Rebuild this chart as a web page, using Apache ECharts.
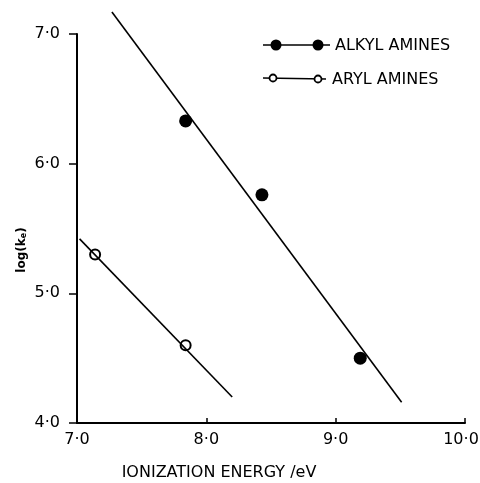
<!DOCTYPE html>
<html>
<head>
<meta charset="utf-8">
<script src="https://cdn.jsdelivr.net/npm/echarts@6/dist/echarts.min.js"></script>
<style>
    html, body { margin: 0; padding: 0; background: #fff; }
    #chart { width: 480px; height: 483px; }
</style>
</head>
<body>
<div id="chart"></div>
<script>
// Data
const alkylPoints = [[7.84, 6.33], [8.43, 5.76], [9.19, 4.50]];
const arylPoints = [[7.14, 5.30], [7.84, 4.60]];
// Fitted lines (end points)
const alkylFit = [[7.27, 7.17], [9.51, 4.16]];
const arylFit = [[7.02, 5.42], [8.20, 4.20]];
const xTicks = [7, 8, 9, 10];
const yTicks = [4, 5, 6, 7];

const FONT = 'DejaVu Sans';

function fmt(v) {
    return v.toFixed(1).replace('.', '\u00b7');
}

const chart = echarts.init(document.getElementById('chart'));

const option = {
    backgroundColor: '#fff',
    animation: false,
    grid: { left: 77, right: 15, top: 34, bottom: 60, containLabel: false, outerBoundsMode: 'none' },
    xAxis: {
        type: 'value',
        min: xTicks[0],
        max: xTicks[xTicks.length - 1],
        interval: 1,
        axisLine: { lineStyle: { color: '#000', width: 2 } },
        axisTick: { inside: true, length: 5, lineStyle: { color: '#000', width: 1.5 } },
        axisLabel: {
            color: '#000', fontFamily: FONT, fontSize: 16, margin: 9,
            formatter: function(v) {
                // last label nudged left so it stays inside the frame
                return v >= 10 ? '{n|' + fmt(v) + '}' : fmt(v);
            },
            rich: { n: { fontSize: 16, fontFamily: FONT, color: '#000', padding: [0, 8, 0, 0] } }
        },
        splitLine: { show: false }
    },
    yAxis: {
        type: 'value',
        min: yTicks[0],
        max: yTicks[yTicks.length - 1],
        interval: 1,
        axisLine: { show: true, lineStyle: { color: '#000', width: 2 } },
        axisTick: { show: true, length: 8, lineStyle: { color: '#000', width: 1.5 } },
        axisLabel: {
            color: '#000', fontFamily: FONT, fontSize: 16, margin: 17,
            formatter: fmt
        },
        splitLine: { show: false }
    },
    series: [
        {
            type: 'line',
            data: alkylFit,
            showSymbol: false,
            clip: false,
            lineStyle: { color: '#000', width: 1.6 }
        },
        {
            type: 'line',
            data: arylFit,
            showSymbol: false,
            clip: false,
            lineStyle: { color: '#000', width: 1.6 }
        },
        {
            name: 'ALKYL AMINES',
            type: 'scatter',
            data: alkylPoints,
            symbol: 'circle',
            symbolSize: 13,
            itemStyle: { color: '#000', opacity: 1 }
        },
        {
            name: 'ARYL AMINES',
            type: 'scatter',
            data: arylPoints,
            symbol: 'circle',
            symbolSize: 10,
            itemStyle: { color: '#fff', borderColor: '#000', borderWidth: 2, opacity: 1 }
        }
    ],
    graphic: [
        // y axis title
        {
            type: 'text',
            x: 22, y: 250,
            rotation: Math.PI / 2,
            style: {
                text: 'log(k{e|e})',
                fill: '#000',
                font: 'bold 12px ' + FONT,
                align: 'center',
                verticalAlign: 'middle',
                rich: { e: { fontSize: 8, fontWeight: 'bold', fontFamily: FONT, padding: [4, 0, 0, 0] } }
            }
        },
        // x axis title
        {
            type: 'text',
            x: 219, y: 473,
            style: {
                text: 'IONIZATION ENERGY /eV',
                fill: '#000',
                font: '16px ' + FONT,
                align: 'center',
                verticalAlign: 'middle'
            }
        },
        // legend: alkyl
        { type: 'line', shape: { x1: 263, y1: 45, x2: 330, y2: 45 }, style: { stroke: '#000', lineWidth: 1.6 } },
        { type: 'circle', shape: { cx: 276, cy: 45, r: 5.5 }, style: { fill: '#000' } },
        { type: 'circle', shape: { cx: 318, cy: 45, r: 5.5 }, style: { fill: '#000' } },
        {
            type: 'text', x: 335, y: 46,
            style: { text: 'ALKYL AMINES', fill: '#000', font: '16px ' + FONT, verticalAlign: 'middle' }
        },
        // legend: aryl
        { type: 'line', shape: { x1: 263, y1: 78, x2: 326, y2: 79 }, style: { stroke: '#000', lineWidth: 1.6 } },
        { type: 'circle', shape: { cx: 273, cy: 78, r: 3.5 }, style: { fill: '#fff', stroke: '#000', lineWidth: 1.8 } },
        { type: 'circle', shape: { cx: 318, cy: 79, r: 3.5 }, style: { fill: '#fff', stroke: '#000', lineWidth: 1.8 } },
        {
            type: 'text', x: 332, y: 80,
            style: { text: 'ARYL AMINES', fill: '#000', font: '16px ' + FONT, verticalAlign: 'middle' }
        }
    ]
};

chart.setOption(option);
</script>
</body>
</html>
